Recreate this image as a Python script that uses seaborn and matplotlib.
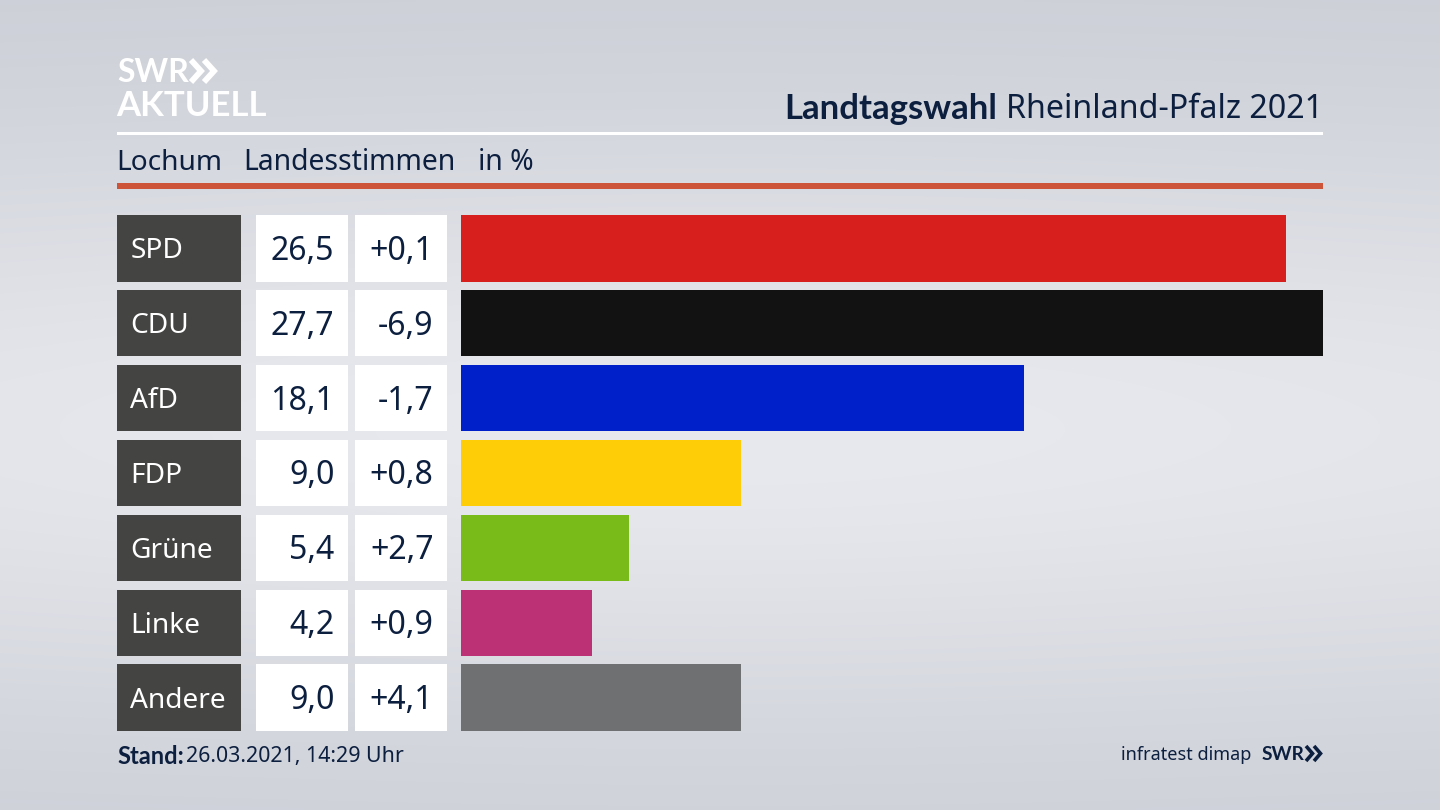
import numpy as np
import pandas as pd
import matplotlib
matplotlib.use("Agg")
import matplotlib.pyplot as plt
from matplotlib.patches import Rectangle
import seaborn as sns

parties = ["SPD", "CDU", "AfD", "FDP", "Grüne", "Linke", "Andere"]
shares = [26.5, 27.7, 18.1, 9.0, 5.4, 4.2, 9.0]
changes = [0.1, -6.9, -1.7, 0.8, 2.7, 0.9, 4.1]
colors = ["#d71f1d", "#121212", "#0021c9", "#ffcc08", "#79bc1a", "#bc3075", "#6f7072"]

NAVY = "#0c1f3f"
W, H = 1440, 810
BAR_H = 66.5 / 74.83
TXT_DY = 0.04  # text sits a bit low in the row

sns.set_theme(style="white")
plt.rcParams["font.family"] = ["Noto Sans", "DejaVu Sans"]
BOLD = ["Lato", "DejaVu Sans"]


def de(v, sign=False):
    s = f"{v:+.1f}" if sign else f"{v:.1f}"
    return s.replace(".", ",")


def px_axes(fig, x0, y0, x1, y1, **kw):
    return fig.add_axes([x0 / W, 1 - y1 / H, (x1 - x0) / W, (y1 - y0) / H], **kw)


def chevrons(a, x, y0, y1, w, gap, color, lw):
    # the two arrows of the SWR logo
    for off in (0, gap):
        a.plot([x + off, x + off + w, x + off], [y0, (y0 + y1) / 2, y1], color=color, lw=lw,
               solid_joinstyle="miter", solid_capstyle="butt")


fig = plt.figure(figsize=(14.4, 8.1), dpi=100)

# background + header/footer, in pixel coords
bg = px_axes(fig, 0, 0, W, H)
yy, xx = np.mgrid[0:1:200j, 0:1:356j]
glow = np.exp(-((yy - 0.53) / 0.36) ** 2) * (0.75 + 0.25 * np.exp(-((xx - 0.5) / 0.6) ** 2))
c0, c1 = np.array([203, 206, 214]), np.array([232, 233, 238])
grad = c0 + (c1 - c0) * glow[..., None]
bg.imshow(grad / 255, extent=(0, W, H, 0), aspect="auto", interpolation="bilinear")

bg.add_patch(Rectangle((117, 132), 1206, 3, color="white", lw=0))
bg.add_patch(Rectangle((117, 183), 1206, 6, color="#cd5339", lw=0))

bg.text(117, 82, "SWR", color="white", fontsize=23, family=BOLD, fontweight="bold", va="baseline")
bg.text(116, 115.5, "AKTUELL", color="white", fontsize=25, family=BOLD, fontweight="bold", va="baseline")
chevrons(bg, 191, 60, 82, 10, 13, "white", 4.2)

bg.text(1323, 106, "Rheinland-Pfalz 2021", color=NAVY, fontsize=23.2, ha="right", va="center_baseline")
bg.text(997, 106, "Landtagswahl", color=NAVY, fontsize=25, family=BOLD, fontweight="bold",
        ha="right", va="center_baseline")

bg.text(116, 159.5, "Lochum", color=NAVY, fontsize=20.2, va="center_baseline")
bg.text(243, 159.5, "Landesstimmen", color=NAVY, fontsize=20.4, va="center_baseline")
bg.text(478, 159.5, "in %", color=NAVY, fontsize=20.4, va="center_baseline")

bg.text(117, 754, "Stand:", color=NAVY, fontsize=17, family=BOLD, fontweight="bold", va="center_baseline")
bg.text(186, 754, "26.03.2021, 14:29 Uhr", color=NAVY, fontsize=15.4, va="center_baseline")
bg.text(1251, 753, "infratest dimap", color=NAVY, fontsize=13, ha="right", va="center_baseline")
bg.text(1304, 753.5, "SWR", color=NAVY, fontsize=13.8, family=BOLD, fontweight="bold", ha="right", va="center_baseline")
chevrons(bg, 1306, 746, 761, 6.5, 8, NAVY, 2.6)

bg.set_xlim(0, W)
bg.set_ylim(H, 0)
bg.axis("off")

# bars
df = pd.DataFrame({"party": parties, "share": shares})
ax = px_axes(fig, 461, 215, 1323, 731)
ax.patch.set_alpha(0)
sns.barplot(data=df, x="share", y="party", hue="party", order=parties, hue_order=parties,
            palette=colors, width=BAR_H, saturation=1, legend=False, linewidth=0, ax=ax)
ax.set_xlim(0, max(shares))
ax.set_ylim(6 + BAR_H / 2, -BAR_H / 2)
ax.axis("off")

# label and value cells share the bars' y scale
tab = px_axes(fig, 117, 215, 447, 731)
tab.patch.set_alpha(0)
tab.set_xlim(117, 447)
tab.set_ylim(ax.get_ylim())
tab.axis("off")
for i, party in enumerate(parties):
    tab.add_patch(Rectangle((117, i - BAR_H / 2), 124, BAR_H, color="#444442", lw=0))
    tab.add_patch(Rectangle((256, i - BAR_H / 2), 92, BAR_H, color="white", lw=0))
    tab.add_patch(Rectangle((355, i - BAR_H / 2), 92, BAR_H, color="white", lw=0))
    tab.text(130.5, i + TXT_DY, party, color="white", fontsize=20.2, va="center")
    tab.text(334.5, i + TXT_DY, de(shares[i]), color=NAVY, fontsize=23.1, ha="right", va="center")
    tab.text(433.5, i + TXT_DY, de(changes[i], sign=True), color=NAVY, fontsize=23.1, ha="right", va="center")

fig.savefig("out.png", dpi=100)
